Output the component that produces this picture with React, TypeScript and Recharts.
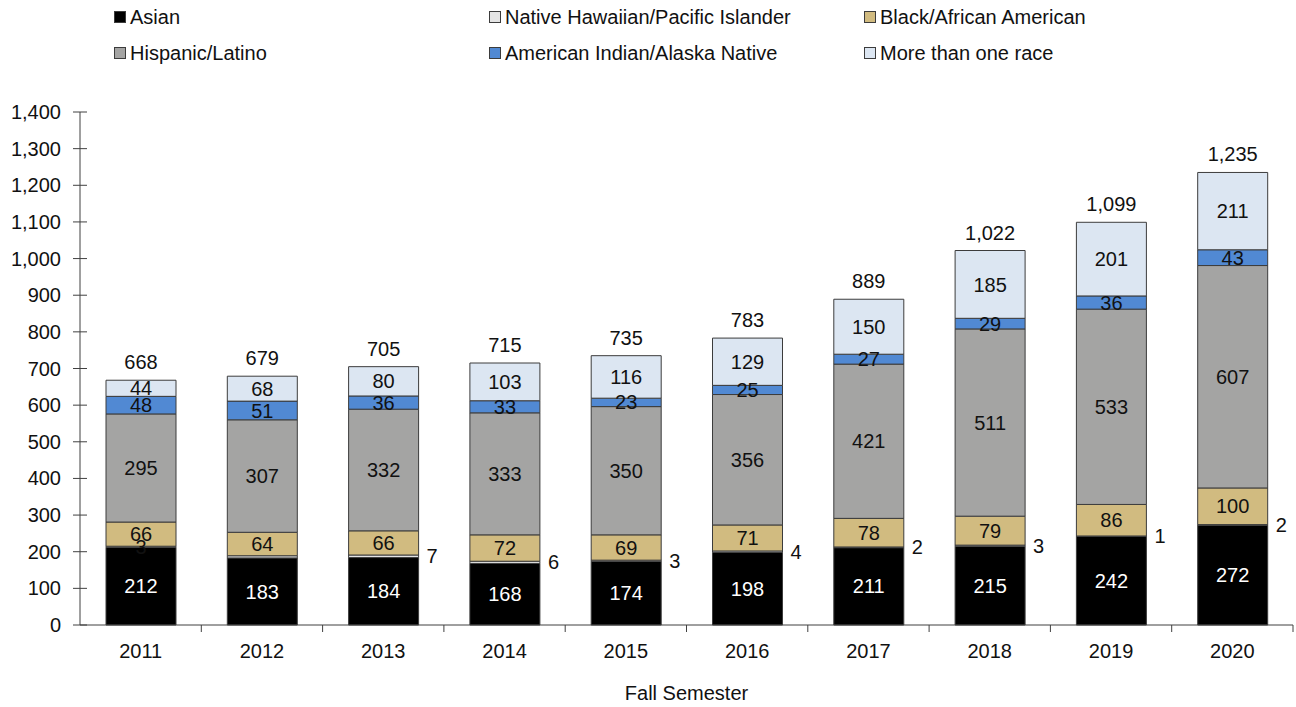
import { BarChart, Bar, XAxis, YAxis, LabelList } from "recharts";

const years = ["2011", "2012", "2013", "2014", "2015", "2016", "2017", "2018", "2019", "2020"];
const asian = [212, 183, 184, 168, 174, 198, 211, 215, 242, 272];
const nhpi = [3, 6, 7, 6, 3, 4, 2, 3, 1, 2];
const black = [66, 64, 66, 72, 69, 71, 78, 79, 86, 100];
const hispanic = [295, 307, 332, 333, 350, 356, 421, 511, 533, 607];
const aian = [48, 51, 36, 33, 23, 25, 27, 29, 36, 43];
const multi = [44, 68, 80, 103, 116, 129, 150, 185, 201, 211];
const totals = [668, 679, 705, 715, 735, 783, 889, 1022, 1099, 1235];
const yTicks = [0, 100, 200, 300, 400, 500, 600, 700, 800, 900, 1000, 1100, 1200, 1300, 1400];
// where the tiny NHPI count is printed: inside the sliver, beside the bar, or not at all
const nhpiLabelPlace = ["center", "none", "right", "right", "right", "right", "right", "right", "right", "right"];

const data = years.map((year, i) => ({
  year,
  asian: asian[i],
  nhpi: nhpi[i],
  black: black[i],
  hispanic: hispanic[i],
  aian: aian[i],
  multi: multi[i],
  total: totals[i],
}));

const FONT = "'Liberation Sans', Arial, Helvetica, sans-serif";
const FS = 20;
const INK = "#111111";
const EDGE = "#3c3c3c";
const AXIS = "#404040";

const series = [
  { key: "asian", name: "Asian", fill: "#000000" },
  { key: "nhpi", name: "Native Hawaiian/Pacific Islander", fill: "#e4e4e4" },
  { key: "black", name: "Black/African American", fill: "#d1bb80" },
  { key: "hispanic", name: "Hispanic/Latino", fill: "#a4a4a3" },
  { key: "aian", name: "American Indian/Alaska Native", fill: "#5189d3" },
  { key: "multi", name: "More than one race", fill: "#dce6f2" },
];

// legend is laid out row by row, three columns like the original
const legendRows = [
  ["asian", "nhpi", "black"],
  ["hispanic", "aian", "multi"],
];
const legendCols = [114, 489, 864];

const fmt = (v: number) => v.toLocaleString("en-US");

function NhpiLabel(props: any) {
  const { index, value } = props;
  const vb = props.viewBox ?? props;
  const { x, y, width, height } = vb;
  const place = nhpiLabelPlace[index];
  if (place === "none") return null;
  const right = place === "right";
  return (
    <text
      x={right ? x + width + 8 : x + width / 2}
      y={y + height / 2}
      dy="0.35em"
      textAnchor={right ? "start" : "middle"}
      fill={INK}
      fontSize={FS}
      fontFamily={FONT}
    >
      {value}
    </text>
  );
}

function YearTick(props: any) {
  const { x, y, payload } = props;
  const axisY = y - 7 - 2;
  const edge = x + (payload.offset ?? 0);
  return (
    <g>
      <line x1={edge} y1={axisY} x2={edge} y2={axisY + 7} stroke={AXIS} strokeWidth={1} />
      <text x={x} y={axisY + 26} dy="0.35em" textAnchor="middle" fill={INK} fontSize={FS} fontFamily={FONT}>
        {payload.value}
      </text>
    </g>
  );
}

// y ticks cross the axis line, so they're drawn here instead of by tickLine
function ValueTick(props: any) {
  const { x, y, payload } = props;
  const axisX = x + 7 + 12;
  return (
    <g>
      <line x1={axisX - 7} y1={y} x2={axisX + 7} y2={y} stroke={AXIS} strokeWidth={1} />
      <text x={x} y={y} dy="0.35em" textAnchor="end" fill={INK} fontSize={FS} fontFamily={FONT}>
        {fmt(payload.value)}
      </text>
    </g>
  );
}

function Legend() {
  return (
    <>
      {legendRows.map((row, r) =>
        row.map((key, c) => {
          const s = series.find((d) => d.key === key)!;
          return (
            <div
              key={key}
              style={{
                position: "absolute",
                left: legendCols[c],
                top: 17 + r * 36 - 12,
                height: 24,
                display: "flex",
                alignItems: "center",
                fontFamily: FONT,
                fontSize: FS,
                color: INK,
                whiteSpace: "nowrap",
              }}
            >
              <span
                style={{
                  display: "inline-block",
                  boxSizing: "border-box",
                  width: 12,
                  height: 12,
                  background: s.fill,
                  border: `1px solid ${EDGE}`,
                  marginRight: 4,
                }}
              />
              {s.name}
            </div>
          );
        })
      )}
    </>
  );
}

export default function App() {
  return (
    <div style={{ position: "absolute", left: 0, top: 0, width: 1296, height: 707, background: "#ffffff" }}>
      <Legend />
      <BarChart
        width={1296}
        height={707}
        data={data}
        margin={{ top: 112, right: 3, bottom: 0, left: 0 }}
        barSize={70}
      >
        <XAxis
          dataKey="year"
          height={82}
          tickLine={false}
          tickSize={7}
          tickMargin={2}
          axisLine={{ stroke: AXIS }}
          tick={<YearTick />}
          interval={0}
          label={{ value: "Fall Semester", position: "insideBottom", offset: 7, fill: INK, fontSize: FS, fontFamily: FONT }}
        />
        <YAxis
          width={80}
          domain={[0, 1400]}
          ticks={yTicks}
          interval={0}
          tickSize={7}
          tickMargin={12}
          axisLine={{ stroke: AXIS }}
          tickLine={false}
          tick={<ValueTick />}
        />
        <Bar dataKey="asian" stackId="a" fill="#000000" stroke={EDGE} strokeWidth={1} isAnimationActive={false}>
          <LabelList dataKey="asian" position="center" fill="#ffffff" fontSize={FS} fontFamily={FONT} />
        </Bar>
        <Bar dataKey="nhpi" stackId="a" fill="#e4e4e4" stroke={EDGE} strokeWidth={1} isAnimationActive={false}>
          <LabelList dataKey="nhpi" content={<NhpiLabel />} />
        </Bar>
        <Bar dataKey="black" stackId="a" fill="#d1bb80" stroke={EDGE} strokeWidth={1} isAnimationActive={false}>
          <LabelList dataKey="black" position="center" fill={INK} fontSize={FS} fontFamily={FONT} />
        </Bar>
        <Bar dataKey="hispanic" stackId="a" fill="#a4a4a3" stroke={EDGE} strokeWidth={1} isAnimationActive={false}>
          <LabelList dataKey="hispanic" position="center" fill={INK} fontSize={FS} fontFamily={FONT} />
        </Bar>
        <Bar dataKey="aian" stackId="a" fill="#5189d3" stroke={EDGE} strokeWidth={1} isAnimationActive={false}>
          <LabelList dataKey="aian" position="center" fill={INK} fontSize={FS} fontFamily={FONT} />
        </Bar>
        <Bar dataKey="multi" stackId="a" fill="#dce6f2" stroke={EDGE} strokeWidth={1} isAnimationActive={false}>
          <LabelList dataKey="multi" position="center" fill={INK} fontSize={FS} fontFamily={FONT} />
          <LabelList dataKey="total" position="top" offset={11} formatter={fmt} fill={INK} fontSize={FS} fontFamily={FONT} />
        </Bar>
      </BarChart>
    </div>
  );
}
